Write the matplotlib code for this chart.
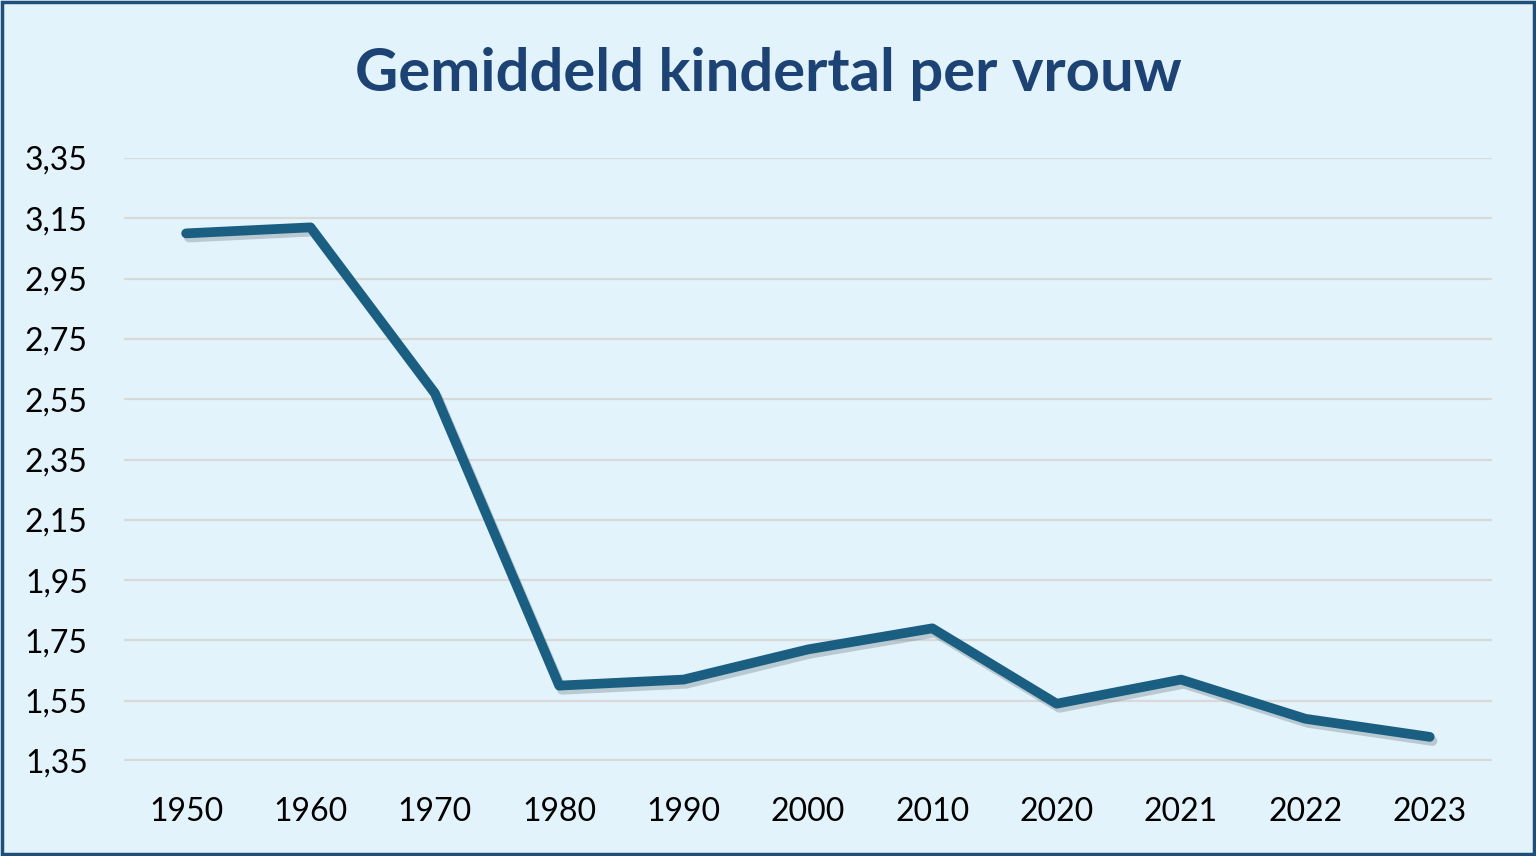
import matplotlib
matplotlib.use("Agg")
import matplotlib.pyplot as plt
import matplotlib.patheffects as pe
from matplotlib.patches import Rectangle

# data
years = ["1950", "1960", "1970", "1980", "1990", "2000",
         "2010", "2020", "2021", "2022", "2023"]
kindertal = [3.10, 3.12, 2.57, 1.60, 1.62, 1.72, 1.79, 1.54, 1.62, 1.49, 1.43]
y_ticks = [1.35, 1.55, 1.75, 1.95, 2.15, 2.35, 2.55, 2.75, 2.95, 3.15, 3.35]

bg = "#E3F3FB"
line_color = "#1A5F82"
title_color = "#1C4374"

plt.rcParams['font.family'] = ['Lato', 'DejaVu Sans']

fig = plt.figure(figsize=(15.36, 8.56), dpi=100, facecolor=bg)
ax = fig.add_axes([0.0807, 0.111, 0.8906, 0.7044])
ax.set_facecolor(bg)

x = list(range(len(years)))
ax.plot(x, kindertal, color=line_color, lw=7, solid_capstyle='round',
        solid_joinstyle='round', zorder=3,
        path_effects=[pe.SimpleLineShadow(offset=(2, -3), shadow_color='#5a6a75', alpha=0.3),
                      pe.Normal()])

ax.set_xlim(-0.5, len(years) - 0.5)
ax.set_ylim(1.35, 3.35)
ax.set_xticks(x)
ax.set_xticklabels(years)
ax.set_yticks(y_ticks)
ax.set_yticklabels([f"{v:.2f}".replace(".", ",") for v in y_ticks])

for v in y_ticks:
    ax.axhline(v, color="#D9D9D9", lw=3.0 if v == y_ticks[0] else 1.6, zorder=1)

for s in ax.spines.values():
    s.set_visible(False)
ax.tick_params(axis='both', length=0, labelsize=23, colors='black')
ax.tick_params(axis='x', pad=26)
ax.tick_params(axis='y', pad=26)

fig.text(0.5, 0.913, "Gemiddeld kindertal per vrouw", ha='center', va='center',
         fontsize=43, fontweight='bold', color=title_color)

# outer border
fig.patches.append(Rectangle((0.001, 0.002), 0.998, 0.996, transform=fig.transFigure,
                             fill=False, edgecolor="#1F4E79", lw=2.5))

fig.savefig("out.png", dpi=100, facecolor=bg)
